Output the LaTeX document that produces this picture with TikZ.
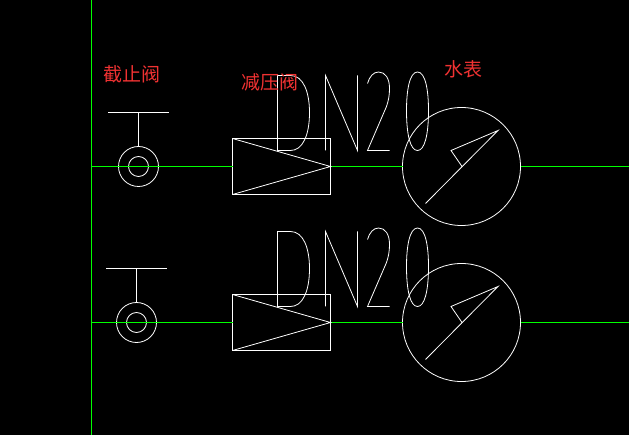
\documentclass[tikz,border=0pt]{standalone}
\usepackage{fontspec}
\setmainfont{Noto Sans CJK SC}
\usetikzlibrary{positioning}
\definecolor{pipegreen}{RGB}{0,255,0}
\definecolor{labelred}{RGB}{240,50,50}
\tikzset{
  line/.style={draw=white,line width=0.8pt},
  waterline/.style={draw=pipegreen,line width=1.2pt},
  ring/.style={circle,draw=white,line width=0.8pt,inner sep=0pt,outer sep=0pt},
  valvebox/.style={rectangle,draw=white,line width=0.8pt,inner sep=0pt,outer sep=0pt,minimum width=98pt,minimum height=56pt},
  tag/.style={text=labelred,font=\fontsize{19}{19}\selectfont,inner sep=0pt},
  dn20/.pic={
    \draw[line] (0,0) -- (13,0) .. controls (26,0) and (32,17) .. (32,37) .. controls (32,60) and (25,75) .. (13,75) -- (0,75) -- cycle;
    \draw[line] (48,75) -- (48,0) -- (80,75) -- (80,0);
    \draw[line] (90,8) .. controls (92,1) and (96,-3.5) .. (101,-3.5) .. controls (108,-3.5) and (112,3) .. (112,13) .. controls (112,20) and (111,25) .. (109,31) -- (90,75) -- (112,75);
    \draw[line] (140,-3.5) .. controls (132,-3.5) and (129,15) .. (129,35) .. controls (129,60) and (133,75) .. (140,75) .. controls (147,75) and (151,60) .. (151,35) .. controls (151,15) and (148,-3.5) .. (140,-3.5) -- cycle;
  }
}
\begin{document}
\begin{tikzpicture}[x=1pt,y=-1pt]
    \useasboundingbox[fill=black] (0,0) rectangle (629,435);
    % wall
    \coordinate (top) at (91.5,0);
    \coordinate (bottom) at (91.5,435);
    \draw[waterline] (top) -- (bottom);
    % upper run
    \coordinate (w_0) at (91.5,166.5);
    \coordinate (e_0) at (629,166.5);
    \node[valvebox] (b_0) at (281.5,166.5) {};
    \node[ring,minimum size=118pt] (m_0) at (461.5,166.5) {};
    \node[ring,minimum size=40pt] (v_0) at (138.5,166.5) {};
    \node[ring,minimum size=20pt] (c_0) at (138.5,166.5) {};
    \coordinate[above=54pt of v_0.center] (s_0);
    \coordinate[left=30.5pt of s_0] (l_0);
    \coordinate[right=30.5pt of s_0] (r_0);
    % lower run
    \coordinate (w_1) at (91.5,322.5);
    \coordinate (e_1) at (629,322.5);
    \node[valvebox] (b_1) at (281.5,322.5) {};
    \node[ring,minimum size=118pt] (m_1) at (461.5,322.5) {};
    \node[ring,minimum size=40pt] (v_1) at (136.5,322.5) {};
    \node[ring,minimum size=20pt] (c_1) at (136.5,322.5) {};
    \coordinate[above=54pt of v_1.center] (s_1);
    \coordinate[left=30.5pt of s_1] (l_1);
    \coordinate[right=30.5pt of s_1] (r_1);
    \foreach \i in {0,1} {
        \draw[waterline] (w_\i) -- (b_\i.west);
        \draw[waterline] (b_\i.east) -- (m_\i.west);
        \draw[waterline] (m_\i.east) -- (e_\i);
        \draw[line] (l_\i) -- (r_\i);
        \draw[line] (s_\i) -- (v_\i.north);
        \draw[line] (b_\i.north west) -- (b_\i.east) -- (b_\i.south west);
        \draw[line] ([shift={(-36,37)}]m_\i.center) -- ([shift={(36.5,-36)}]m_\i.center) -- ([shift={(-10.5,-16)}]m_\i.center) -- ([shift={(0.5,0)}]m_\i.center);
    }
    \pic at (277.5,75.5) {dn20};
    \pic at (277.5,231.5) {dn20};
    \node[tag] (t_0) at (132,74.5) {截止阀};
    \node[tag] (t_1) at (270,82.5) {减压阀};
    \node[tag] (t_2) at (463.5,69.5) {水表};
\end{tikzpicture}
\end{document}
